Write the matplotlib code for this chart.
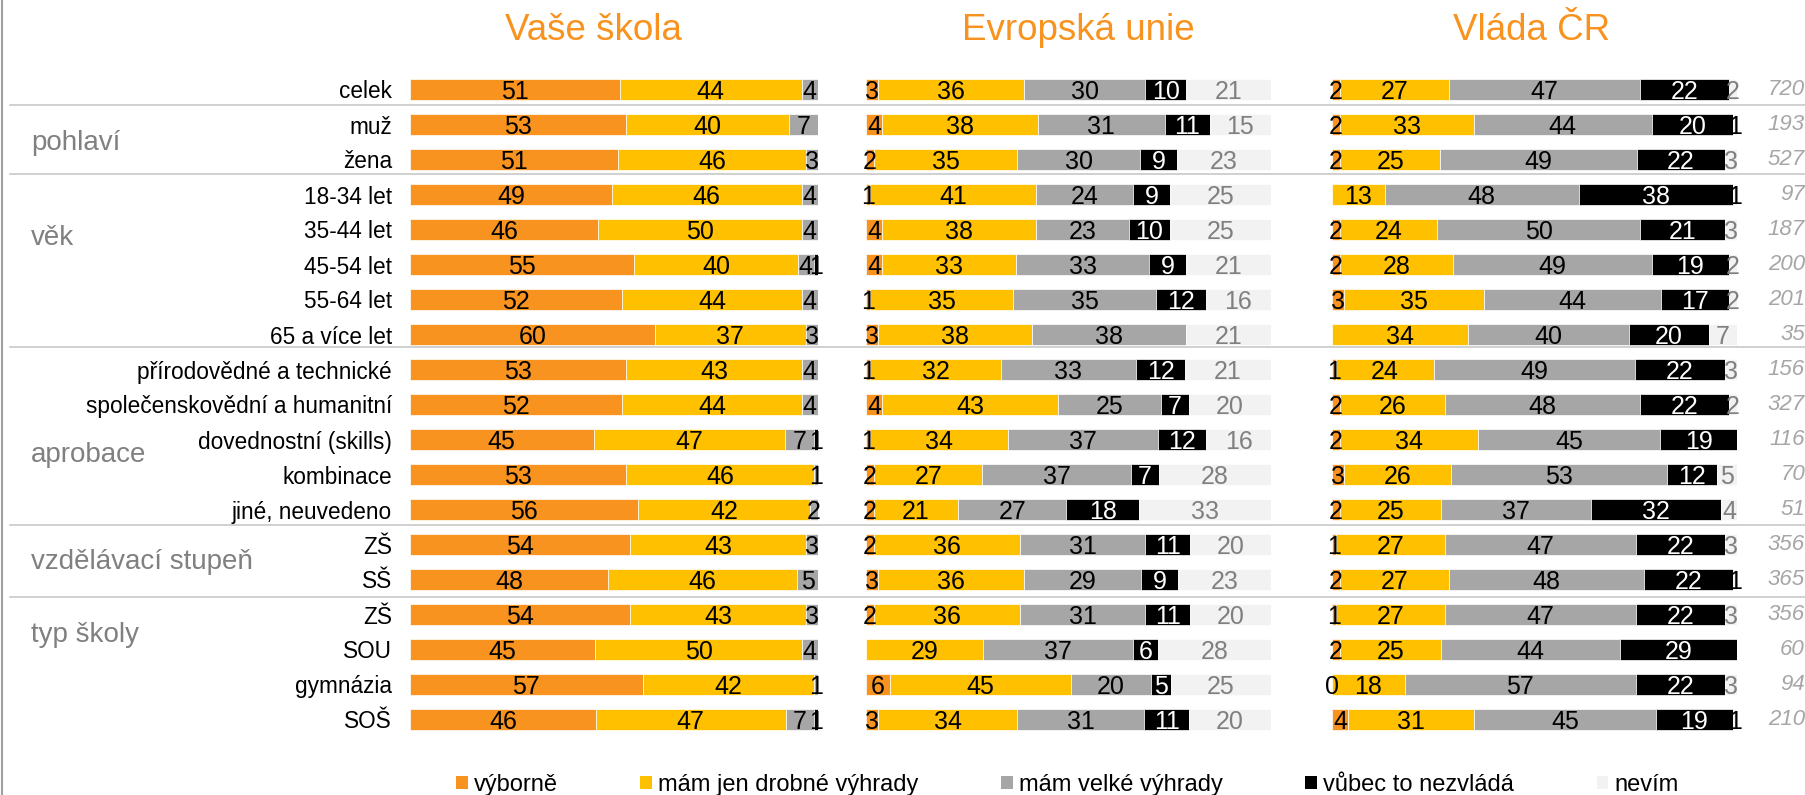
import numpy as np
import matplotlib.pyplot as plt
import matplotlib.transforms as mtransforms
from matplotlib.lines import Line2D
from matplotlib.patches import Patch

plt.rcParams['font.family'] = ['Liberation Sans', 'DejaVu Sans']

nan = np.nan

kategorie = ["celek", "muž", "žena", "18-34 let", "35-44 let", "45-54 let",
             "55-64 let", "65 a více let", "přírodovědné a technické",
             "společenskovědní a humanitní", "dovednostní (skills)", "kombinace",
             "jiné, neuvedeno", "ZŠ", "SŠ", "ZŠ", "SOU", "gymnázia", "SOŠ"]
skupiny = ["pohlaví", "věk", "aprobace", "vzdělávací stupeň", "typ školy"]
odpovedi = ["výborně", "mám jen drobné výhrady", "mám velké výhrady",
            "vůbec to nezvládá", "nevím"]
panely = ["Vaše škola", "Evropská unie", "Vláda ČR"]
pocty = [720, 193, 527, 97, 187, 200, 201, 35, 156, 327, 116, 70, 51,
         356, 365, 356, 60, 94, 210]

skola = np.array([
    [51, 44, 4, nan, nan],
    [53, 40, 7, nan, nan],
    [51, 46, 3, nan, nan],
    [49, 46, 4, nan, nan],
    [46, 50, 4, nan, nan],
    [55, 40, 4, 1, nan],
    [52, 44, 4, nan, nan],
    [60, 37, 3, nan, nan],
    [53, 43, 4, nan, nan],
    [52, 44, 4, nan, nan],
    [45, 47, 7, 1, nan],
    [53, 46, 1, nan, nan],
    [56, 42, 2, nan, nan],
    [54, 43, 3, nan, nan],
    [48, 46, 5, nan, nan],
    [54, 43, 3, nan, nan],
    [45, 50, 4, nan, nan],
    [57, 42, 1, nan, nan],
    [46, 47, 7, 1, nan],
])
eu = np.array([
    [3, 36, 30, 10, 21],
    [4, 38, 31, 11, 15],
    [2, 35, 30, 9, 23],
    [1, 41, 24, 9, 25],
    [4, 38, 23, 10, 25],
    [4, 33, 33, 9, 21],
    [1, 35, 35, 12, 16],
    [3, 38, 38, nan, 21],
    [1, 32, 33, 12, 21],
    [4, 43, 25, 7, 20],
    [1, 34, 37, 12, 16],
    [2, 27, 37, 7, 28],
    [2, 21, 27, 18, 33],
    [2, 36, 31, 11, 20],
    [3, 36, 29, 9, 23],
    [2, 36, 31, 11, 20],
    [nan, 29, 37, 6, 28],
    [6, 45, 20, 5, 25],
    [3, 34, 31, 11, 20],
])
vlada = np.array([
    [2, 27, 47, 22, 2],
    [2, 33, 44, 20, 1],
    [2, 25, 49, 22, 3],
    [nan, 13, 48, 38, 1],
    [2, 24, 50, 21, 3],
    [2, 28, 49, 19, 2],
    [3, 35, 44, 17, 2],
    [nan, 34, 40, 20, 7],
    [1, 24, 49, 22, 3],
    [2, 26, 48, 22, 2],
    [2, 34, 45, 19, nan],
    [3, 26, 53, 12, 5],
    [2, 25, 37, 32, 4],
    [1, 27, 47, 22, 3],
    [2, 27, 48, 22, 1],
    [1, 27, 47, 22, 3],
    [2, 25, 44, 29, nan],
    [0, 18, 57, 22, 3],
    [4, 31, 45, 19, 1],
])

barvy = ['#F7931E', '#FFC000', '#A6A6A6', '#000000', '#F2F2F2']
barvy_textu = ['black', 'black', 'black', 'white', '#808080']
oranzova = '#F7931E'

# layout (pixels of the 1806x795 picture)
W, H = 1806, 795
panel_x = [(410, 818), (866, 1271), (1332, 1737)]
titulek_x = [593, 1078, 1532]
skupiny_y = [1.53, 4.24, 10.44, 13.49, 15.59]
oddelovace_y = [0.45, 2.4, 7.37, 12.43, 14.49]

fig = plt.figure(figsize=(W / 100, H / 100), dpi=100)

n = len(kategorie)
y = np.arange(n)
osy = []
for k, data in enumerate([skola, eu, vlada]):
    x0, x1 = panel_x[k]
    ax = fig.add_axes([x0 / W, 1 - 737 / H, (x1 - x0) / W, 665 / H])
    osy.append(ax)
    hodnoty = np.nan_to_num(data)
    sirky = hodnoty / hodnoty.sum(axis=1, keepdims=True) * 100
    vlevo = np.zeros(n)
    for j in range(5):
        ax.barh(y, sirky[:, j], left=vlevo, height=0.59, color=barvy[j],
                edgecolor='white', linewidth=0.5, label=odpovedi[j])
        for i in range(n):
            v = data[i, j]
            if np.isnan(v):
                continue
            c = 'black' if v <= 1 else barvy_textu[j]
            ax.text(vlevo[i] + sirky[i, j] / 2, i, '%d' % v, ha='center',
                    va='center_baseline', fontsize=18, color=c)
        vlevo = vlevo + sirky[:, j]
    ax.set_xlim(0, 100)
    ax.set_ylim(n - 0.5, -0.5)
    ax.set_xticks([])
    for s in ax.spines.values():
        s.set_visible(False)
    if k == 0:
        ax.set_yticks(y)
        ax.set_yticklabels(kategorie, fontsize=16.3)
        ax.tick_params(axis='y', length=0, pad=13)
    else:
        ax.set_yticks([])
    fig.text(titulek_x[k] / W, 1 - 30 / H, panely[k], ha='center', va='center',
             fontsize=26.5, color=oranzova)

tr = mtransforms.blended_transform_factory(fig.transFigure, osy[0].transData)
for yy in oddelovace_y:
    fig.add_artist(Line2D([10 / W, 1], [yy, yy], transform=tr, color='#C8C8C8', lw=1.2))
for s, yy in zip(skupiny, skupiny_y):
    fig.text(31 / W, yy, s, transform=tr, ha='left', va='center', fontsize=20,
             color='#808080')

tr3 = mtransforms.blended_transform_factory(fig.transFigure, osy[2].transData)
for i, p in enumerate(pocty):
    fig.text(1805 / W, i, str(p), transform=tr3, ha='right', va='center',
             fontsize=16, style='italic', color='#A6A6A6')

fig.add_artist(Line2D([2 / W, 2 / W], [0, 1], color='#A0A0A0', lw=1.5))

uchyty = [Patch(facecolor=c) for c in barvy]
fig.legend(uchyty, odpovedi, loc='center', bbox_to_anchor=(0.591, 1 - 785 / H),
           ncol=5, frameon=False, fontsize=17, handlelength=0.5, handleheight=0.5,
           handletextpad=0.25, columnspacing=3.5)

fig.savefig('out.png', dpi=100)
